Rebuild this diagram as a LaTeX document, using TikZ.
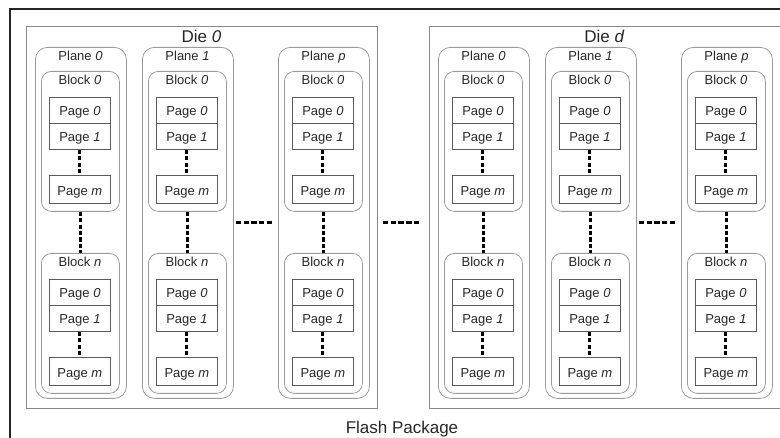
\documentclass[tikz,border=0pt]{standalone}
\usepackage{fontspec}
\setmainfont{Liberation Sans}
\usetikzlibrary{calc}
\definecolor{txt}{HTML}{262626}
\definecolor{diegray}{HTML}{8A8A8A}
\definecolor{soft}{HTML}{9A9A9A}
\definecolor{pagegray}{HTML}{5A5A5A}
\begin{document}
\begin{tikzpicture}[x=1pt,y=-1pt,
  frame/.style={draw=black!85, line width=1.8pt},
  diebox/.style={draw=diegray, line width=0.9pt, anchor=north west, inner sep=0pt, minimum width=351pt, minimum height=382pt},
  planebox/.style={draw=soft, line width=0.8pt, rounded corners=12pt, anchor=north west, inner sep=0pt, minimum width=91pt, minimum height=351pt},
  blockbox/.style={draw=soft, line width=0.8pt, rounded corners=10pt, anchor=north west, inner sep=0pt, minimum width=78pt, minimum height=140pt},
  pagebox/.style={draw=pagegray, line width=0.8pt, anchor=north west, inner sep=0pt, minimum width=61pt, text=txt,
    text height=11pt, text depth=1pt, font=\fontsize{13}{15}\selectfont},
  lab/.style={anchor=base, inner sep=0pt, text=txt, font=\fontsize{13}{15}\selectfont},
  biglab/.style={anchor=base, inner sep=0pt, text=txt, font=\fontsize{17}{20}\selectfont},
  vdots/.style={draw=black, line width=3pt, dash pattern=on 4.2pt off 2.2pt},
  hdots/.style={draw=black, line width=3pt, dash pattern=on 5.5pt off 2.2pt}]
\useasboundingbox (0,0) rectangle (780,438);
\draw[frame] (781,9) -- (10,9) -- (10,439);
\node[biglab] (flash) at (402,434) {Flash Package};
\foreach \D/\DX/\DL in {a/26/0, b/429/d} {
  \node[diebox] (die\D) at (\DX,26) {};
  \node[biglab] (dielab\D) at (\DX+175.5,43) {Die \textit{\DL}};
  \foreach \P/\PO/\PL in {0/9/0, 1/116/1, 2/252/p} {
    \pgfmathsetmacro\X{\DX+\PO}
    \node[planebox] (pl\D\P) at (\X,47) {};
    \node[lab] (pllab\D\P) at (\X+45.5,61) {Plane \textit{\PL}};
    \foreach \B/\BY in {0/71, n/253} {
      \node[blockbox] (bl\D\P\B) at (\X+6,\BY) {};
      \node[lab] (bllab\D\P\B) at (\X+45,\BY+14) {Block \textit{\B}};
      \node[pagebox, minimum height=26pt] (pgA\D\P\B) at (\X+14,\BY+26) {Page \textit{0}};
      \node[pagebox, minimum height=26pt] (pgB\D\P\B) at (\X+14,\BY+52) {Page \textit{1}};
      \node[pagebox, minimum height=28pt, text height=12pt, text depth=0pt] (pgM\D\P\B) at (\X+14,\BY+104) {Page \textit{m}};
      \draw[vdots] (pgB\D\P\B.south) -- (pgM\D\P\B.north);
    }
    \draw[vdots] (bl\D\P0.south) -- (bl\D\P n.north);
  }
  \coordinate (hs\D) at ($(pl\D1.east)+(2,0)$);
  \coordinate (he\D) at ($(pl\D2.west)+(-6,0)$);
  \draw[hdots] (hs\D) -- (he\D);
}
\coordinate (mids) at ($(diea.east)+(5,5)$);
\coordinate (mide) at ($(dieb.west)+(-9,5)$);
\draw[hdots] (mids) -- (mide);
\end{tikzpicture}
\end{document}
